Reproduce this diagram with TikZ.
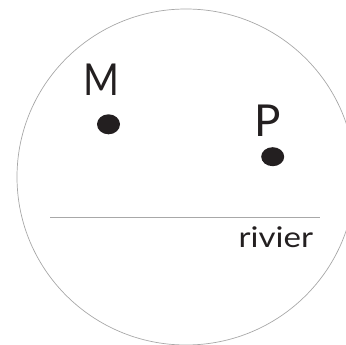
\documentclass[tikz,border=0pt]{standalone}
\usepackage{fontspec}
\usepackage{graphicx}
\setmainfont{Lato}
\usetikzlibrary{shapes.geometric}
\definecolor{ink}{HTML}{231F20}
\definecolor{rim}{HTML}{A8A8A8}
\begin{document}
\begin{tikzpicture}[x=1pt,y=-1pt,
  thinline/.style={draw=rim, line width=0.7pt},
  spot/.style={ellipse, fill=ink, inner sep=0pt, minimum width=23pt, minimum height=20pt},
  biglabel/.style={inner sep=0pt, text=ink, font=\fontsize{44}{44}\selectfont},
  rivlabel/.style={inner sep=0pt, text=ink, font=\fontsize{28.5}{28.5}\selectfont}]
\useasboundingbox (0,0) rectangle (346,345);
\clip (0,0) rectangle (346,345);
\draw[thinline] (186,177) ellipse [x radius=169, y radius=168];
\coordinate (l1) at (50,217);
\coordinate (l2) at (320,217);
\draw[thinline] (l1) -- (l2);
\node[spot] (m) at (108.5,124.3) {};
\node[spot, minimum height=19pt] (p) at (272.7,156.7) {};
\node[biglabel] (ml) at (101.7,80) {\scalebox{0.88}[1]{M}};
\node[biglabel] (pl) at (267.7,120.3) {P};
\node[rivlabel, anchor=base west] (riv) at (238.5,247.3) {\scalebox{1.16}[1]{rivier}};
\end{tikzpicture}
\end{document}
